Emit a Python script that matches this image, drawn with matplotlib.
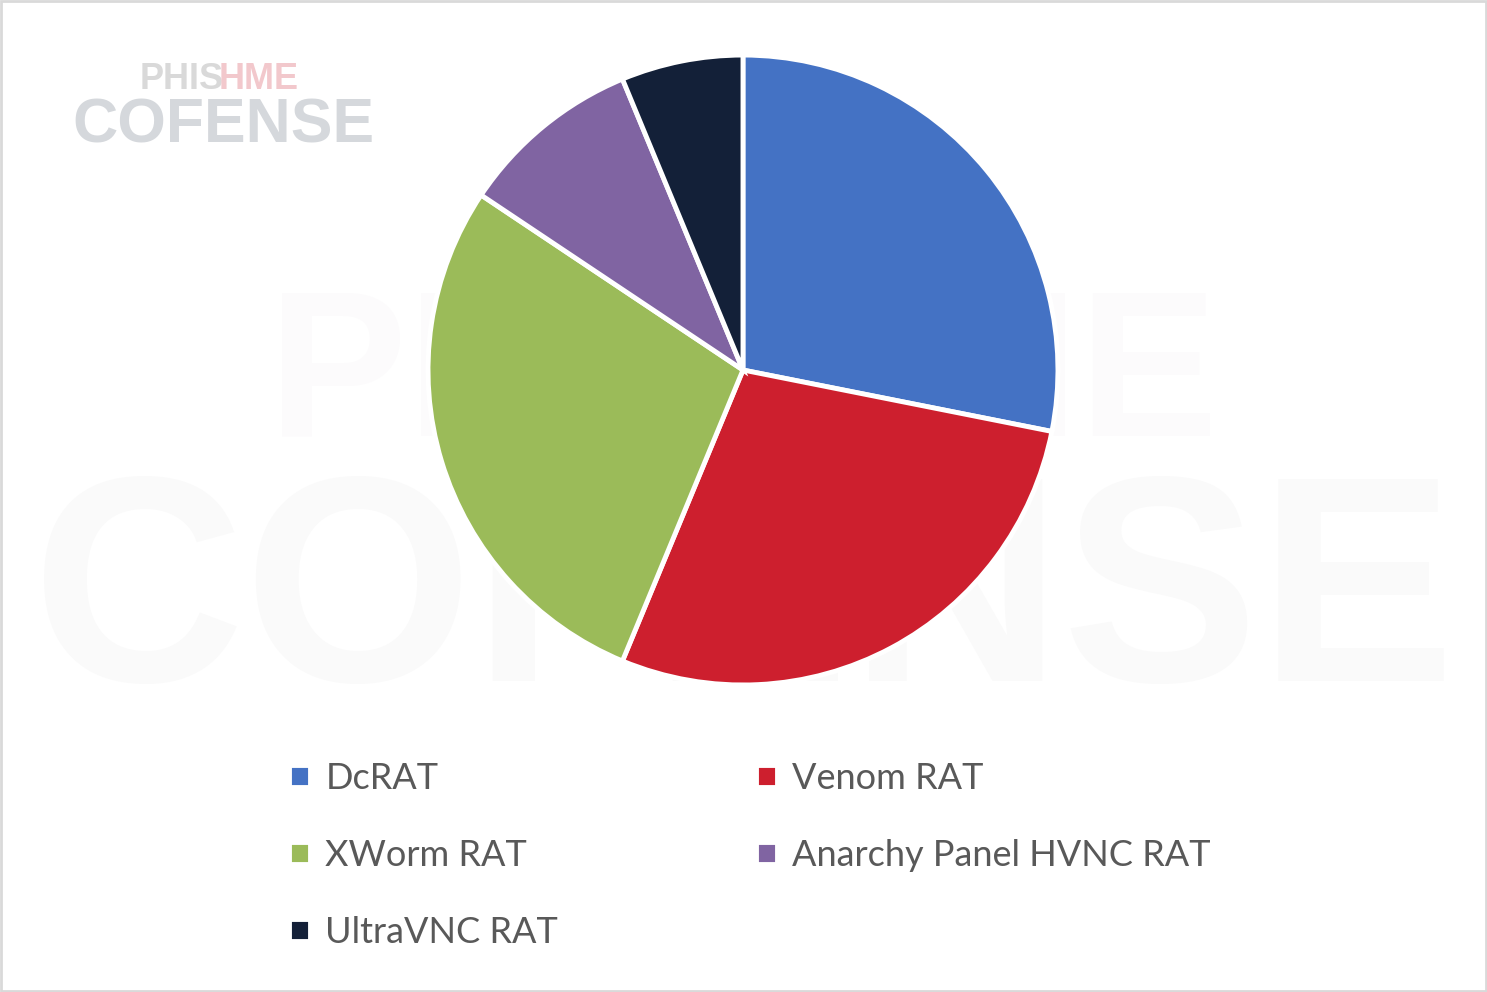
import matplotlib.pyplot as plt
from matplotlib.patches import Rectangle

# RAT families seen in campaign, counts
labels = ["DcRAT", "Venom RAT", "XWorm RAT", "Anarchy Panel HVNC RAT", "UltraVNC RAT"]
counts = [9, 9, 9, 3, 2]
colors = ["#4472C4", "#CD1F2E", "#9BBB59", "#8064A2", "#132038"]

fig = plt.figure(figsize=(14.87, 9.92), dpi=100)
fig.patch.set_facecolor("white")

# faint background watermark, on its own axes behind the pie
bg = fig.add_axes([0, 0, 1, 1], zorder=0)
bg.axis("off")
bg.text(0.5, 0.39, "COFENSE", ha="center", va="center", fontsize=212,
        fontweight="bold", family="Liberation Sans", color="#fafafa")
bg.text(0.5, 0.615, "PHISHME", ha="center", va="center", fontsize=150,
        fontweight="bold", family="Liberation Sans", color="#fcfbfc")

# small logo top-left
bg.text(0.094, 0.92, "PHIS", ha="left", va="center", fontsize=26,
        fontweight="bold", family="Liberation Sans", color="#d9d9d9")
bg.text(0.147, 0.92, "HME", ha="left", va="center", fontsize=26,
        fontweight="bold", family="Liberation Sans", color="#f2c8cc")
bg.text(0.15, 0.873, "COFENSE", ha="center", va="center", fontsize=45,
        fontweight="bold", family="Liberation Sans", color="#d5d8dc")

ax = fig.add_axes([0.2878, 0.3095, 0.4237, 0.635], zorder=2)
ax.patch.set_alpha(0)
wedges, _ = ax.pie(counts, colors=colors, startangle=90, counterclock=False,
                   radius=1.0, wedgeprops=dict(edgecolor="white", linewidth=3.5))
ax.set_xlim(-1, 1)
ax.set_ylim(-1, 1)
ax.set_aspect("equal")

# legend laid out row-wise in two columns
col1 = [0, 2, 4]
col2 = [1, 3]
leg_kw = dict(frameon=False, handlelength=0.58, handleheight=0.58, handletextpad=0.43,
              labelspacing=1.22, loc="upper left", labelcolor="#595959",
              prop={"family": "Lato", "size": 26})
fig.legend([wedges[i] for i in col1], [labels[i] for i in col1],
           bbox_to_anchor=(0.1725, 0.265), **leg_kw)
fig.legend([wedges[i] for i in col2], [labels[i] for i in col2],
           bbox_to_anchor=(0.4865, 0.265), **leg_kw)

# thin grey frame around the chart
fig.patches.append(Rectangle((0.001, 0.001), 0.998, 0.998, transform=fig.transFigure,
                             fill=False, edgecolor="#d9d9d9", linewidth=2))

fig.savefig("out.png", dpi=100, facecolor="white")
